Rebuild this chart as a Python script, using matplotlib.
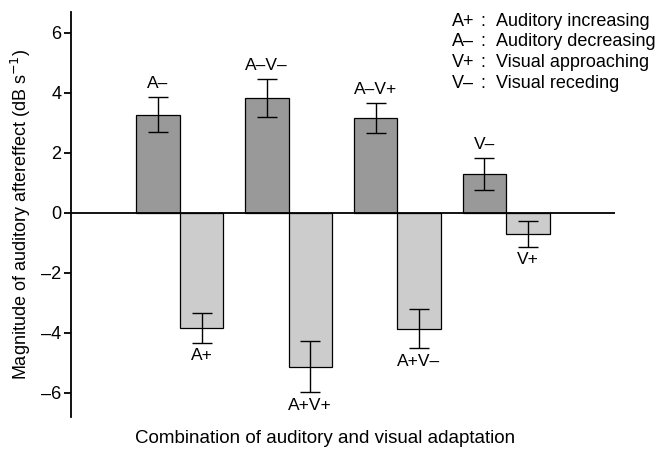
import matplotlib
matplotlib.use("Agg")
import matplotlib.pyplot as plt
import numpy as np

plt.rcParams["font.family"] = ["Liberation Sans", "DejaVu Sans"]

# dark bars (positive aftereffect) and light bars (negative aftereffect)
dark_labels = ["A\u2013", "A\u2013V\u2013", "A\u2013V+", "V\u2013"]
dark_values = [3.27, 3.83, 3.18, 1.30]
dark_errors = [0.58, 0.63, 0.50, 0.54]

light_labels = ["A+", "A+V+", "A+V\u2013", "V+"]
light_values = [-3.84, -5.13, -3.86, -0.70]
light_errors = [0.49, 0.85, 0.65, 0.42]

key_codes = ["A+", "A\u2013", "V+", "V\u2013"]
key_texts = ["Auditory increasing", "Auditory decreasing",
             "Visual approaching", "Visual receding"]

yticks = [-6, -4, -2, 0, 2, 4, 6]


def main() -> None:
    fig = plt.figure(figsize=(6.64, 4.51), dpi=100)
    ax = fig.add_axes([0.107, 0.0754, 0.819, 0.898])

    x = np.arange(len(dark_values))
    width = 0.4
    ax.bar(x - width / 2, dark_values, width, color="#999999",
           edgecolor="black", linewidth=0.9, zorder=2)
    ax.bar(x + width / 2, light_values, width, color="#cccccc",
           edgecolor="black", linewidth=0.9, zorder=2)
    ax.errorbar(x - width / 2, dark_values, yerr=dark_errors, fmt="none",
                ecolor="black", elinewidth=1.0, capsize=7.5, capthick=1.0, zorder=3)
    ax.errorbar(x + width / 2, light_values, yerr=light_errors, fmt="none",
                ecolor="black", elinewidth=1.0, capsize=7.5, capthick=1.0, zorder=3)

    for xi, v, e, lab in zip(x - width / 2, dark_values, dark_errors, dark_labels):
        ax.text(xi, v + e + 0.2, lab, ha="center", va="bottom", fontsize=12.5)
    for xi, v, e, lab in zip(x + width / 2, light_values, light_errors, light_labels):
        ax.text(xi, v - e - 0.18, lab, ha="center", va="top", fontsize=12.5)

    ax.axhline(0, color="black", linewidth=1.3, zorder=4)

    ax.set_xlim(-1.0, 4.0)
    ax.set_ylim(-6.8, 6.7)
    ax.set_yticks(yticks)
    ax.set_yticklabels([str(t).replace("-", "\u2013") for t in yticks], fontsize=13)
    ax.set_xticks([])
    for side in ["top", "right", "bottom"]:
        ax.spines[side].set_visible(False)
    ax.spines["left"].set_linewidth(1.3)
    ax.tick_params(axis="y", direction="out", length=5, width=1.3, pad=2)

    ax.set_ylabel("Magnitude of auditory aftereffect (dB s$^{\u22121}$)",
                  fontsize=13, labelpad=6)
    fig.text(0.49, 0.027, "Combination of auditory and visual adaptation",
             ha="center", va="center", fontsize=13.5)

    for i, (code, desc) in enumerate(zip(key_codes, key_texts)):
        yy = 0.953 - i * 0.046
        fig.text(0.681, yy, code, fontsize=13, va="center")
        fig.text(0.724, yy, ":", fontsize=13, va="center")
        fig.text(0.747, yy, desc, fontsize=13, va="center")

    fig.savefig("out.png", dpi=100)
    plt.close(fig)


if __name__ == "__main__":
    main()
